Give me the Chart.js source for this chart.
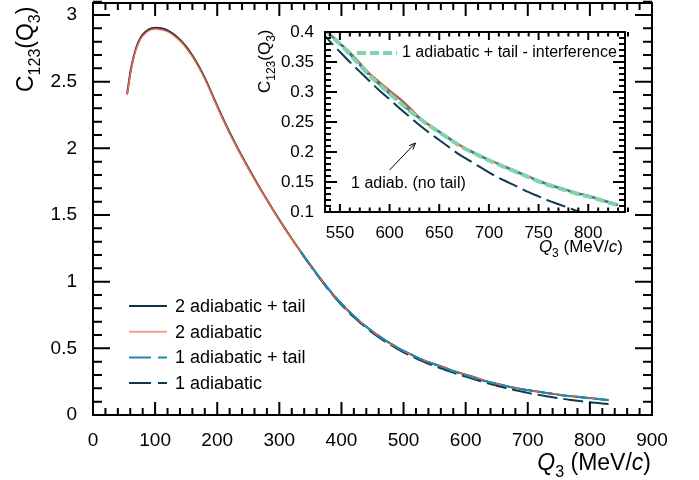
<!DOCTYPE html>
<html>
<head>
<meta charset="utf-8">
<script src="https://cdn.jsdelivr.net/npm/chart.js@4.4.1/dist/chart.umd.min.js"></script>
<style>
  body { margin: 0; background: #fff; }
  #wrap { position: relative; width: 699px; height: 480px; background: #fff; }
  #main { position: absolute; left: 0; top: 0; }
  #inset { position: absolute; left: 240px; top: 20px; }
</style>
</head>
<body>
<div id="wrap">
  <canvas id="main" width="699" height="480"></canvas>
  <canvas id="inset" width="405" height="245"></canvas>
</div>
<script>
const FONT = '"Liberation Sans", Arial, sans-serif';

// Q3 grid (MeV/c) of the full curves
const qFull = [55, 60, 65, 70, 75, 80, 90, 100, 110, 120, 130, 140, 150, 160, 170, 180, 190, 200,
  210, 220, 230, 240, 250, 260, 270, 280, 290, 300, 310, 320, 330, 340, 350, 360, 370, 380, 390, 400,
  410, 420, 430, 440, 450, 460, 470, 480, 490, 500, 510, 520, 530, 540, 550, 560, 570, 580, 590, 600,
  610, 620, 630, 640, 650, 660, 670, 680, 690, 700, 710, 720, 730, 740, 750, 760, 770, 780, 790, 800,
  810, 820, 830];

const c2AdTail = [2.41, 2.565, 2.68, 2.76, 2.815, 2.852, 2.893, 2.905, 2.90, 2.885, 2.856, 2.815, 2.762, 2.696, 2.618, 2.528, 2.425, 2.318,
  2.216, 2.119, 2.027, 1.939, 1.854, 1.772, 1.692, 1.614, 1.538, 1.464, 1.392, 1.322, 1.254, 1.188, 1.124, 1.061, 1.0, 0.94, 0.885, 0.834,
  0.786, 0.742, 0.70, 0.662, 0.626, 0.593, 0.562, 0.533, 0.506, 0.481, 0.458, 0.436, 0.415, 0.396, 0.381, 0.366, 0.348, 0.330, 0.316, 0.302,
  0.289, 0.274, 0.257, 0.245, 0.234, 0.223, 0.212, 0.203, 0.195, 0.187, 0.180, 0.173, 0.166, 0.159, 0.152, 0.146, 0.141, 0.136, 0.131, 0.127,
  0.122, 0.117, 0.112];

const c2Ad = [2.40, 2.555, 2.67, 2.75, 2.805, 2.842, 2.883, 2.895, 2.89, 2.875, 2.846, 2.806, 2.753, 2.687, 2.61, 2.52, 2.418, 2.311,
  2.21, 2.113, 2.022, 1.934, 1.85, 1.768, 1.689, 1.611, 1.535, 1.461, 1.39, 1.32, 1.252, 1.186, 1.122, 1.059, 0.998, 0.938, 0.883, 0.832,
  0.784, 0.741, 0.699, 0.661, 0.625, 0.592, 0.561, 0.532, 0.505, 0.48, 0.457, 0.435, 0.414, 0.395, 0.38, 0.365, 0.348, 0.331, 0.317, 0.303,
  0.29, 0.275, 0.258, 0.245, 0.234, 0.223, 0.212, 0.203, 0.195, 0.187, 0.18, 0.173, 0.166, 0.159, 0.152, 0.146, 0.141, 0.136, 0.131, 0.127,
  0.122, 0.117, 0.112];

// the 1-adiabatic curves only start at ~335 MeV/c
const qTail = [335, 340, 350, 360, 370, 380, 390, 400, 410, 420, 430, 440, 450, 460, 470, 480, 490, 500, 510, 520, 530, 540,
  550, 560, 570, 580, 590, 600, 610, 620, 630, 640, 650, 660, 670, 680, 690, 700, 710, 720, 730, 740, 750, 760, 770, 780, 790, 800,
  810, 820, 830];

const c1AdTail = [1.221, 1.188, 1.124, 1.061, 1.0, 0.94, 0.885, 0.834, 0.786, 0.742, 0.70, 0.662, 0.626, 0.593, 0.562, 0.533, 0.506, 0.481, 0.458, 0.436, 0.415, 0.396,
  0.38, 0.363, 0.345, 0.327, 0.312, 0.297, 0.283, 0.269, 0.256, 0.244, 0.233, 0.222, 0.211, 0.202, 0.194, 0.186, 0.179, 0.172, 0.165, 0.158, 0.151, 0.145, 0.14, 0.135, 0.13, 0.126,
  0.121, 0.116, 0.111];

const c1Ad = [1.221, 1.186, 1.121, 1.057, 0.995, 0.934, 0.879, 0.827, 0.778, 0.734, 0.692, 0.654, 0.617, 0.583, 0.552, 0.523, 0.496, 0.47, 0.447, 0.425, 0.404, 0.384,
  0.367, 0.350, 0.334, 0.318, 0.302, 0.288, 0.273, 0.259, 0.245, 0.232, 0.220, 0.208, 0.196, 0.186, 0.176, 0.166, 0.157, 0.149, 0.141, 0.133, 0.126, 0.119, 0.113, 0.107, 0.101, 0.096,
  0.091, 0.087, 0.083];

// inset only
const qInterf = [535, 540, 550, 560, 570, 580, 590, 600, 610, 620, 630, 640, 650, 660, 670, 680, 690, 700,
  710, 720, 730, 740, 750, 760, 770, 780, 790, 800, 810, 820, 830];
const c1AdTailInterf = [0.405, 0.396, 0.38, 0.363, 0.345, 0.327, 0.312, 0.297, 0.283, 0.269, 0.256, 0.244, 0.233, 0.222, 0.211, 0.202, 0.194, 0.186,
  0.179, 0.172, 0.165, 0.158, 0.151, 0.145, 0.14, 0.135, 0.13, 0.126, 0.121, 0.116, 0.111];

const xTicksMain = [0, 100, 200, 300, 400, 500, 600, 700, 800, 900];
const yTicksMain = [0, 0.5, 1, 1.5, 2, 2.5, 3];
const xTicksInset = [550, 600, 650, 700, 750, 800];
const yTicksInset = [0.1, 0.15, 0.2, 0.25, 0.3, 0.35, 0.4];

const NAVY = '#0f3347';
const ORANGE = '#f0674a';
const TEAL = '#2189ad';
const NAVY2 = '#0b3a52';
const GREEN = '#7fd4a9';

const pts = (q, c) => q.map((v, i) => ({ x: v, y: c[i] }));

const lineDefaults = { pointRadius: 0, fill: false, cubicInterpolationMode: 'monotone' };

const makeSets = () => [
  { ...lineDefaults, label: '2 adiabatic + tail', data: pts(qFull, c2AdTail), borderColor: NAVY, borderWidth: 2, order: 3, legendDash: [] },
  { ...lineDefaults, label: '2 adiabatic', data: pts(qFull, c2Ad), borderColor: ORANGE, borderWidth: 1.5, order: 2, legendDash: [], legendColor: '#f79c87' },
  { ...lineDefaults, label: '1 adiabatic + tail', data: pts(qTail, c1AdTail), borderColor: TEAL, borderWidth: 2, borderDash: [14, 5], order: 1, legendDash: [22, 7] },
  { ...lineDefaults, label: '1 adiabatic', data: pts(qTail, c1Ad), borderColor: NAVY2, borderWidth: 2, borderDash: [20, 6], order: 4, legendDash: [22, 7] },
];

const richText = (ctx, parts, x, y, size, align, rotate) => {
  ctx.save();
  ctx.translate(x, y);
  if (rotate) ctx.rotate(-Math.PI / 2);
  const font = p => (p.it ? 'italic ' : '') + Math.round(p.sub ? size * 0.7 : size) + 'px ' + FONT;
  let w = 0;
  parts.forEach(p => { ctx.font = font(p); w += ctx.measureText(p.t).width; });
  let cx = align === 'right' ? -w : 0;
  ctx.textAlign = 'left';
  ctx.textBaseline = 'alphabetic';
  ctx.fillStyle = '#000';
  parts.forEach(p => {
    ctx.font = font(p);
    ctx.fillText(p.t, cx, p.sub ? size * 0.3 : 0);
    cx += ctx.measureText(p.t).width;
  });
  ctx.restore();
};

const isMajor = (v, step) => Math.abs(v / step - Math.round(v / step)) < 1e-6;

// frame with inward ticks on all four sides (ROOT style)
const drawFrame = (chart, o) => {
  const { ctx, chartArea: a, scales: { x, y } } = chart;
  ctx.save();
  ctx.strokeStyle = '#000';
  ctx.lineWidth = o.lw;
  ctx.beginPath();
  const nx = Math.round((x.max - o.xStart) / o.xMinor + 1e-6);
  for (let i = 0; i <= nx; i++) {
    const v = o.xStart + i * o.xMinor;
    const px = x.getPixelForValue(v);
    const len = isMajor(v, o.xMajor) ? o.xLen[0] : o.xLen[1];
    ctx.moveTo(px, a.bottom); ctx.lineTo(px, a.bottom - len);
    ctx.moveTo(px, a.top); ctx.lineTo(px, a.top + len);
  }
  const ny = Math.round((y.max - o.yStart) / o.yMinor + 1e-6);
  for (let i = 0; i <= ny; i++) {
    const v = o.yStart + i * o.yMinor;
    const py = y.getPixelForValue(v);
    const len = isMajor(v, o.yMajor) ? o.yLen[0] : o.yLen[1];
    ctx.moveTo(a.left, py); ctx.lineTo(a.left + len, py);
    ctx.moveTo(a.right, py); ctx.lineTo(a.right - len, py);
  }
  ctx.stroke();
  ctx.strokeRect(a.left, a.top, a.right - a.left, a.bottom - a.top);
  ctx.restore();
};

const axisCfg = (min, max, ticks, size, pad, fit) => ({
  type: 'linear', min, max,
  grid: { display: false }, border: { display: false },
  ticks: { font: { size, family: FONT }, color: '#000', padding: pad, maxRotation: 0, autoSkip: false, callback: v => String(v) },
  afterBuildTicks: s => { s.ticks = ticks.map(v => ({ value: v })); },
  afterFit: s => {
    fit(s);
    s.paddingTop = 0; s.paddingBottom = 0; s.paddingLeft = 0; s.paddingRight = 0;
  },
});

const mainDecor = {
  id: 'mainDecor',
  afterDraw(chart) {
    const ctx = chart.ctx;
    drawFrame(chart, { lw: 2, xStart: 0, xMinor: 20, xMajor: 100, yStart: 0, yMinor: 0.1, yMajor: 0.5, xLen: [13, 7], yLen: [17, 9] });
    richText(ctx, [{ t: 'C' }, { t: '123', sub: true }, { t: '(Q' }, { t: '3', sub: true }, { t: ')' }], 33, 92, 23, 'left', true);
    richText(ctx, [{ t: 'Q', it: true }, { t: '3', sub: true }, { t: ' (MeV/' }, { t: 'c', it: true }, { t: ')' }], 651, 470, 23, 'right', false);
    // legend
    ctx.save();
    ctx.font = '18px ' + FONT;
    ctx.textBaseline = 'middle';
    ctx.fillStyle = '#000';
    chart.data.datasets.forEach((ds, i) => {
      const yy = 306 + i * 25.7;
      ctx.strokeStyle = ds.legendColor || ds.borderColor;
      ctx.lineWidth = 2;
      ctx.setLineDash(ds.legendDash);
      ctx.beginPath(); ctx.moveTo(129, yy); ctx.lineTo(167, yy); ctx.stroke();
      ctx.fillText(ds.label, 175, yy + 1);
    });
    ctx.restore();
  }
};

const insetDecor = {
  id: 'insetDecor',
  afterDraw(chart) {
    const { ctx, chartArea: a, scales: { x, y } } = chart;
    drawFrame(chart, { lw: 2, xStart: 540, xMinor: 10, xMajor: 50, yStart: 0.1, yMinor: 0.01, yMajor: 0.05, xLen: [8, 4.5], yLen: [12, 6] });
    richText(ctx, [{ t: 'C' }, { t: '123', sub: true }, { t: '(Q' }, { t: '3', sub: true }, { t: ')' }], 30, 73, 17, 'left', true);
    richText(ctx, [{ t: 'Q', it: true }, { t: '3', sub: true }, { t: ' (MeV/' }, { t: 'c', it: true }, { t: ')' }], a.right - 2, 232, 17, 'right', false);
    ctx.save();
    // legend entry for the interference curve
    ctx.strokeStyle = GREEN;
    ctx.lineWidth = 4;
    ctx.setLineDash([9, 4]);
    ctx.beginPath(); ctx.moveTo(a.left + 32, a.top + 21); ctx.lineTo(a.left + 72, a.top + 21); ctx.stroke();
    ctx.setLineDash([]);
    ctx.font = '16px ' + FONT;
    ctx.fillStyle = '#000';
    ctx.textBaseline = 'middle';
    ctx.fillText('1 adiabatic + tail - interference', a.left + 77, a.top + 21);
    // annotation arrow
    const x0 = x.getPixelForValue(600), y0 = y.getPixelForValue(0.17);
    const x1 = x.getPixelForValue(626), y1 = y.getPixelForValue(0.215);
    ctx.strokeStyle = '#000';
    ctx.lineWidth = 1;
    ctx.beginPath(); ctx.moveTo(x0, y0); ctx.lineTo(x1, y1); ctx.stroke();
    const ang = Math.atan2(y1 - y0, x1 - x0);
    ctx.beginPath();
    ctx.moveTo(x1 - 7 * Math.cos(ang - 0.4), y1 - 7 * Math.sin(ang - 0.4));
    ctx.lineTo(x1, y1);
    ctx.lineTo(x1 - 7 * Math.cos(ang + 0.4), y1 - 7 * Math.sin(ang + 0.4));
    ctx.stroke();
    ctx.textAlign = 'center';
    ctx.fillText('1 adiab. (no tail)', x.getPixelForValue(619), y.getPixelForValue(0.148));
    ctx.restore();
  }
};

Chart.defaults.font.family = FONT;
Chart.defaults.color = '#000';

new Chart(document.getElementById('main').getContext('2d'), {
  type: 'line',
  data: { datasets: makeSets() },
  options: {
    responsive: false,
    animation: false,
    layout: { padding: { left: 0, right: 47, top: 3, bottom: 0 } },
    plugins: { legend: { display: false }, tooltip: { enabled: false } },
    scales: {
      x: axisCfg(0, 900, xTicksMain, 19, 6, s => { s.height = 65; }),
      y: axisCfg(0, 3.09, yTicksMain, 19, 8, s => { s.width = 93; }),
    },
  },
  plugins: [mainDecor],
});

const insetSets = makeSets();
insetSets.push({ ...lineDefaults, label: '1 adiabatic + tail - interference', data: pts(qInterf, c1AdTailInterf), borderColor: GREEN, borderWidth: 4, borderDash: [9, 4], order: 0 });

new Chart(document.getElementById('inset').getContext('2d'), {
  type: 'line',
  data: { datasets: insetSets },
  options: {
    responsive: false,
    animation: false,
    layout: { padding: { left: 0, right: 20, top: 12, bottom: 0 } },
    plugins: { legend: { display: false }, tooltip: { enabled: false } },
    scales: {
      x: axisCfg(535, 837, xTicksInset, 17, 3, s => { s.height = 53; }),
      y: axisCfg(0.1, 0.4, yTicksInset, 17, 3, s => { s.width = 85; }),
    },
  },
  plugins: [insetDecor],
});
</script>
</body>
</html>
